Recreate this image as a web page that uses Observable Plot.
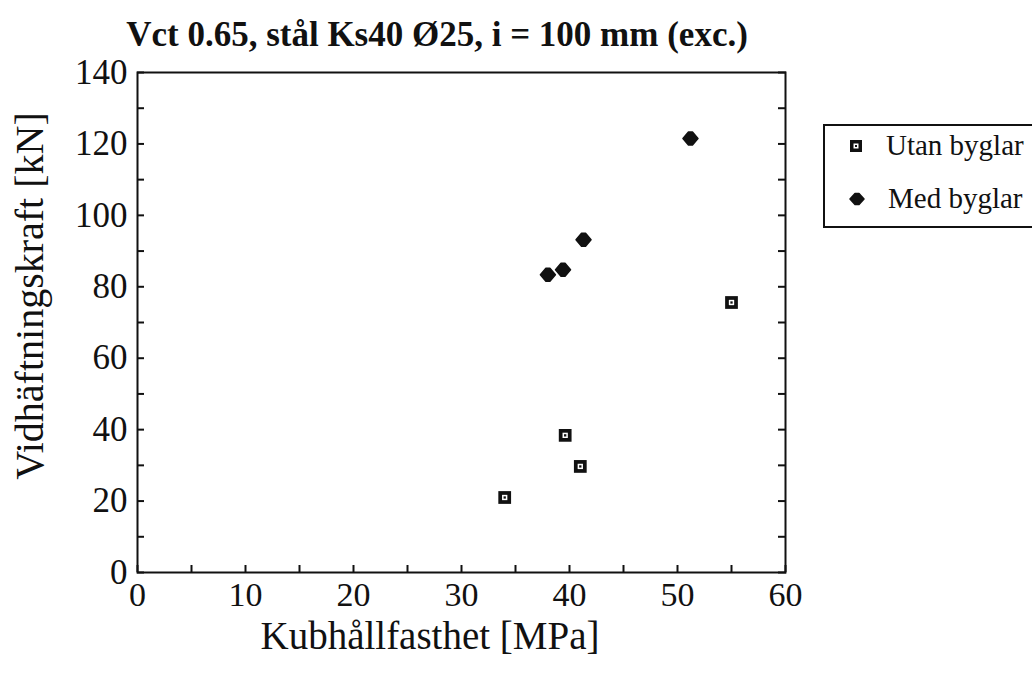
<!DOCTYPE html>
<html>
<head>
<meta charset="utf-8">
<script src="https://cdn.jsdelivr.net/npm/d3@7"></script>
<script src="https://cdn.jsdelivr.net/npm/@observablehq/plot@0.6"></script>
<style>
  html, body { margin: 0; padding: 0; background: #fff; }
  #wrap { position: relative; width: 1032px; height: 679px; overflow: hidden; font-family: "Liberation Serif", serif; color: #111; }
  #title { position: absolute; left: 0; width: 874px; top: 15px; text-align: center; font-weight: bold; font-size: 35px; }
  #xlabel { position: absolute; left: 130px; width: 600px; top: 620px; text-align: center; font-size: 39px; line-height: 32px; }
  #ylabel { position: absolute; left: 30px; top: 296px; width: 500px; margin-left: -250px; text-align: center; font-size: 40px; line-height: 46px; transform: translateY(-23px) rotate(-90deg); transform-origin: 50% 50%; }
  #legend { position: absolute; left: 823px; top: 124px; width: 230px; height: 100px; border: 2px solid #111; font-size: 29px; }
  .row { position: absolute; left: 0; display: flex; align-items: center; }
  .row svg { margin-left: 24px; margin-right: 23px; }
  #chart { position: absolute; left: 0; top: 0; }
</style>
</head>
<body>
<div id="wrap">
  <div id="chart"></div>
  <div id="title">Vct 0.65, stål Ks40 Ø25, i = 100 mm (exc.)</div>
  <div id="xlabel"></div>
  <div id="ylabel"></div>
  <div id="legend"></div>
</div>
<script>
// Data
const seriesNames = ["Utan byglar", "Med byglar"];
const utanX = [34.0, 39.6, 41.0, 55.0];
const utanY = [21.0, 38.4, 29.7, 75.6];
const medX = [38.0, 39.4, 41.3, 51.2];
const medY = [83.4, 84.8, 93.2, 121.5];
const xTickLabels = [0, 10, 20, 30, 40, 50, 60];
const yTickLabels = [0, 20, 40, 60, 80, 100, 120, 140];
const xMinorTicks = [0, 5, 10, 15, 20, 25, 30, 35, 40, 45, 50, 55, 60];
const yMinorTicks = [0, 10, 20, 30, 40, 50, 60, 70, 80, 90, 100, 110, 120, 130, 140];
const xLabel = "Kubhållfasthet [MPa]";
const yLabel = "Vidhäftningskraft [kN]";

const utan = utanX.map((x, i) => ({x, y: utanY[i]}));
const med = medX.map((x, i) => ({x, y: medY[i]}));

document.getElementById("xlabel").textContent = xLabel;
document.getElementById("ylabel").textContent = yLabel;

const ink = "#111";
// wide, slightly rounded diamond like the reference marker
const wideDiamond = {
  draw(context, size) {
    const w = 7.5, h = 6.5;
    context.moveTo(-w, 0);
    context.lineTo(-2, -h);
    context.lineTo(2, -h);
    context.lineTo(w, 0);
    context.lineTo(2, h);
    context.lineTo(-2, h);
    context.closePath();
  }
};

const chart = Plot.plot({
  width: 1032,
  height: 679,
  marginTop: 72,
  marginLeft: 137,
  marginRight: 247,
  marginBottom: 107,
  style: {fontFamily: "'Liberation Serif', serif", fontSize: "35px", color: ink, background: "white"},
  x: {domain: [0, 60]},
  y: {domain: [0, 140]},
  marks: [
    Plot.frame({stroke: ink, strokeWidth: 2}),
    // inward ticks bottom
    Plot.axisX({anchor: "bottom", ticks: xMinorTicks, tickSize: -7, strokeWidth: 2, tickFormat: () => "", label: null}),
    // bottom labels
    Plot.axisX({anchor: "bottom", ticks: xTickLabels, tickSize: 0, tickPadding: 9, fontSize: 34, label: null}),
    // left inward ticks
    Plot.axisY({anchor: "left", ticks: yMinorTicks, tickSize: -7, strokeWidth: 2, tickFormat: () => "", label: null}),
    Plot.axisY({anchor: "left", ticks: yTickLabels, tickSize: 0, tickPadding: 10, fontSize: 35, label: null}),
    // right inward ticks
    Plot.axisY({anchor: "right", ticks: yMinorTicks, tickSize: -8, strokeWidth: 2, tickFormat: () => "", label: null}),
    // Utan byglar: hollow square with center dot
    Plot.dot(utan, {x: "x", y: "y", symbol: "square", r: 7.2, fill: ink, stroke: "none"}),
    Plot.dot(utan, {x: "x", y: "y", symbol: "square", r: 3.0, fill: "white", stroke: "none"}),
    Plot.dot(utan, {x: "x", y: "y", symbol: "square", r: 1.3, fill: ink, stroke: "none"}),
    // Med byglar: filled diamond
    Plot.dot(med, {x: "x", y: "y", symbol: wideDiamond, r: 6, fill: ink, stroke: ink, strokeWidth: 1.5, strokeLinejoin: "round"})
  ]
});
document.getElementById("chart").appendChild(chart);

// Legend
const legend = document.getElementById("legend");
const symSvgs = [
  `<svg width="14" height="14" viewBox="0 0 14 14"><rect x="1" y="1" width="12" height="12" fill="${ink}"/><rect x="4.5" y="4.5" width="5" height="5" fill="white"/><rect x="6" y="6" width="2" height="2" fill="${ink}"/></svg>`,
  `<svg width="16" height="14" viewBox="0 0 16 14"><path d="M1,7L6,1.5L10,1.5L15,7L10,12.5L6,12.5Z" fill="${ink}" stroke="${ink}" stroke-width="1.5" stroke-linejoin="round"/></svg>`
];
const rowTops = [3, 56];
seriesNames.forEach((name, i) => {
  const row = document.createElement("div");
  row.className = "row";
  row.style.top = rowTops[i] + "px";
  row.innerHTML = symSvgs[i] + `<span>${name}</span>`;
  legend.appendChild(row);
});
</script>
</body>
</html>
